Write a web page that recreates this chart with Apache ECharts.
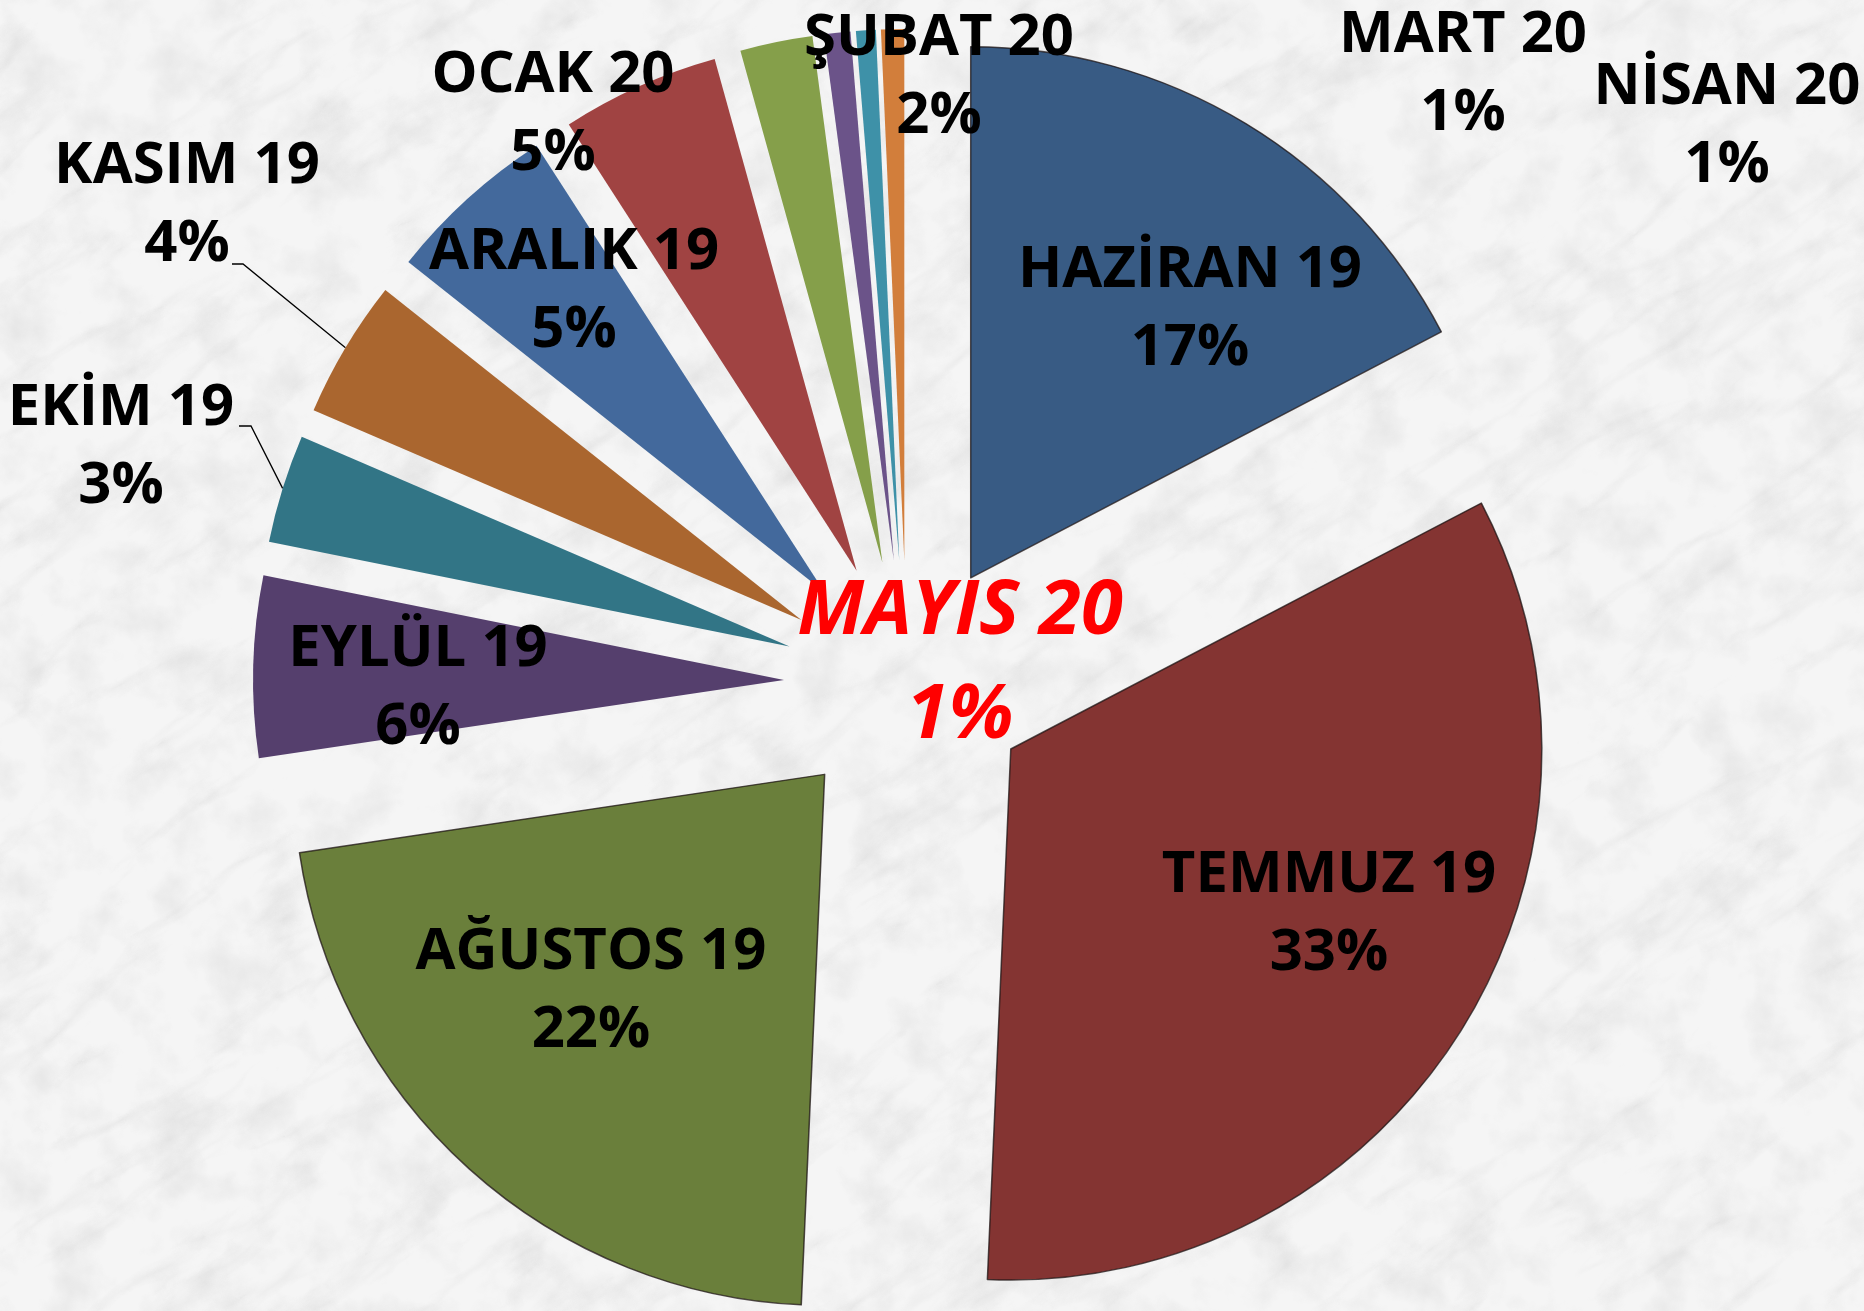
<!DOCTYPE html>
<html lang="tr" style="height: 100%">
<head>
    <meta charset="utf-8">
    <title>Aylara Göre Dağılım</title>
    <style>
        html, body {
            margin: 0;
            height: 100%;
        }
        body {
            background-color: #f3f3f3;
            background-repeat: no-repeat;
        }
        #main {
            width: 1864px;
            height: 1311px;
        }
    </style>
</head>
<body>
<div id="main"></div>

<script src="https://cdn.jsdelivr.net/npm/echarts@6/dist/echarts.min.js"></script>
<script>
    // aylar ve paylari (%)
    const months = ['HAZİRAN 19', 'TEMMUZ 19', 'AĞUSTOS 19', 'EYLÜL 19', 'EKİM 19', 'KASIM 19',
                    'ARALIK 19', 'OCAK 20', 'ŞUBAT 20', 'MART 20', 'NİSAN 20', 'MAYIS 20'];
    const shares = [17.3, 33.3, 21.9, 5.5, 3.3, 4.2, 5.2, 4.8, 2.2, 0.8, 0.6, 0.7];
    const highlightMonth = 'MAYIS 20';
    const linedMonths = ['EKİM 19', 'KASIM 19'];

    const sliceColors = ['#385b84', '#843432', '#6a7f3b', '#553f6d', '#327586', '#aa662f',
                         '#43699c', '#a04342', '#859f4a', '#6b5389', '#3e91a8', '#d27e3b'];

    // etiketlerin elle yerlestirildigi noktalar (Excel'deki gibi)
    const labelAt = [
        [1190, 309], [1329, 914], [591, 991], [418, 688], [121, 447], [187, 205],
        [574, 291], [553, 114], [939, 77], [1463, 74], [1727, 126], [960, 664]
    ];
    // kilavuz cizgilerinin etiket tarafindaki iki noktasi
    const guideEnd = {
        'KASIM 19': [[243, 264], [232, 264]],
        'EKİM 19': [[251, 426], [239, 426]]
    };

    // mermer arka plan
    const marble = `<svg xmlns="http://www.w3.org/2000/svg" width="1864" height="1311">
  <filter id="v" x="0" y="0" width="100%" height="100%">
    <feTurbulence type="turbulence" baseFrequency="0.004 0.014" numOctaves="5" seed="7"/>
    <feColorMatrix type="matrix" values="0 0 0 0 0.5  0 0 0 0 0.5  0 0 0 0 0.5  -2.4 0 0 0 0.6"/>
  </filter>
  <filter id="m" x="0" y="0" width="100%" height="100%">
    <feTurbulence type="fractalNoise" baseFrequency="0.02" numOctaves="4" seed="3"/>
    <feColorMatrix type="matrix" values="0 0 0 0 0.6  0 0 0 0 0.6  0 0 0 0 0.6  1.6 0 0 0 -0.72"/>
  </filter>
  <rect width="100%" height="100%" fill="#f5f5f5"/>
  <rect width="100%" height="100%" filter="url(#m)" opacity="0.45"/>
  <g transform="rotate(-35 932 655)">
    <rect x="-700" y="-700" width="3264" height="2711" filter="url(#v)" opacity="0.28"/>
  </g>
</svg>`;
    document.body.style.backgroundImage = `url("data:image/svg+xml,${encodeURIComponent(marble)}")`;

    const fontFamily = "'Open Sans', 'Noto Sans', sans-serif";
    const pieCenter = [907, 683];
    const pieRadius = 531;
    const explode = 123;

    // her dilim kendi serisinde, orta acisi yonunde disari itilir
    const total = shares.reduce((a, b) => a + b, 0);
    let cum = 0;
    const series = months.map((name, i) => {
        const mid = (cum + shares[i] / 2) / total * 2 * Math.PI;
        cum += shares[i];
        const center = [
            pieCenter[0] + explode * Math.sin(mid),
            pieCenter[1] - explode * Math.cos(mid)
        ];
        // dilimin dis yayinin ortasi (kilavuz cizgisinin basladigi yer)
        const arcMid = [
            center[0] + pieRadius * Math.sin(mid),
            center[1] - pieRadius * Math.cos(mid)
        ];

        const own = {
            name: name,
            value: shares[i],
            itemStyle: { color: sliceColors[i] },
            label: { show: true, position: 'inside' },
            labelLine: { show: false }
        };
        if (i < 3) {
            own.itemStyle.borderColor = 'rgba(30,20,20,0.75)';
            own.itemStyle.borderWidth = 1.5;
        }
        if (linedMonths.includes(name)) {
            own.label.position = 'outside';
            own.labelLine = {
                show: true,
                lineStyle: { color: '#000', width: 1.3 }
            };
        }
        if (name === highlightMonth) {
            Object.assign(own.label, {
                color: '#ff0000',
                fontStyle: 'italic',
                fontSize: 76,
                lineHeight: 104
            });
        }

        const data = months.map((other, j) => j === i ? own : {
            name: other,
            value: shares[j],
            itemStyle: { color: 'rgba(0,0,0,0)', borderWidth: 0 },
            label: { show: false },
            labelLine: { show: false }
        });

        return {
            type: 'pie',
            center: center,
            radius: pieRadius,
            startAngle: 90,
            clockwise: true,
            percentPrecision: 0,
            avoidLabelOverlap: false,
            emphasis: { disabled: true },
            label: {
                show: false,
                formatter: '{b}\n{d}%',
                color: '#000',
                fontFamily: fontFamily,
                fontWeight: 'bold',
                fontSize: 58,
                lineHeight: 78,
                align: 'center'
            },
            labelLayout: function () {
                const out = { x: labelAt[i][0], y: labelAt[i][1], align: 'center', verticalAlign: 'middle' };
                if (guideEnd[name]) {
                    out.labelLinePoints = [arcMid].concat(guideEnd[name]);
                }
                return out;
            },
            data: data
        };
    });

    const chart = echarts.init(document.getElementById('main'), null, { renderer: 'canvas' });
    chart.setOption({
        backgroundColor: 'transparent',
        animation: false,
        series: series
    });

    window.addEventListener('resize', () => chart.resize());
</script>
</body>
</html>
